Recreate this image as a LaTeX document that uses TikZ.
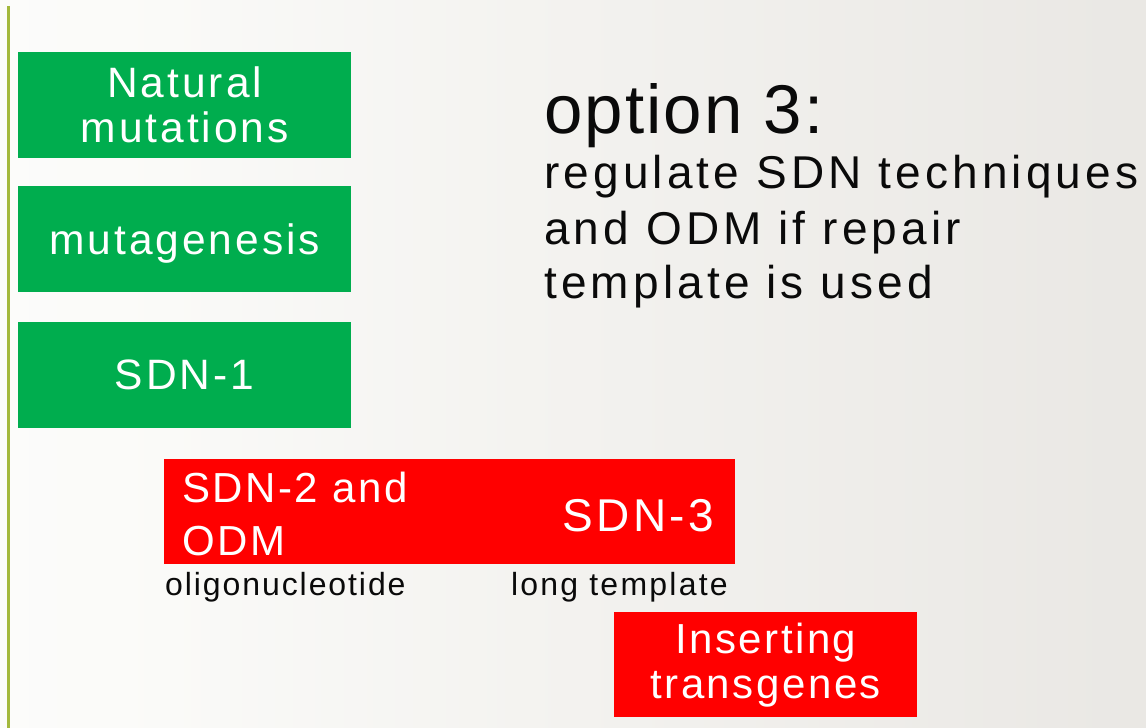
\documentclass[tikz,border=0pt]{standalone}
\usepackage{fontspec}
\setmainfont{Liberation Sans}
\newfontfamily\trackfont{Liberation Sans}[LetterSpace=6]
\newfontfamily\boxfont{Liberation Sans}[LetterSpace=7]
\newfontfamily\bodyfont{Liberation Sans}[LetterSpace=9]
\newfontfamily\titlefont{Liberation Sans}[LetterSpace=3]
\newfontfamily\notefont{Liberation Sans}[LetterSpace=7]
\definecolor{boxgreen}{RGB}{0,173,78}
\definecolor{boxred}{RGB}{255,0,0}
\definecolor{olivebar}{RGB}{163,184,60}
\definecolor{bgA}{RGB}{251,251,249}
\definecolor{bgB}{RGB}{243,242,239}
\definecolor{bgC}{RGB}{224,221,217}
\definecolor{ink}{RGB}{10,10,10}
\pgfdeclarehorizontalshading{bgshade}{100bp}{color(0bp)=(white); color(30bp)=(bgA); color(50bp)=(bgB); color(100bp)=(bgC)}
\begin{document}
\begin{tikzpicture}[x=1pt,y=-1pt,
  boxbase/.style={rectangle, inner sep=0pt, anchor=north west, text=white, align=center},
  greenbox/.style={boxbase, fill=boxgreen, minimum width=333, minimum height=106,
    font=\boxfont\fontsize{42.5}{45}\selectfont},
  redbox/.style={boxbase, fill=boxred, minimum height=105,
    font=\trackfont\fontsize{42}{45}\selectfont},
  whitetext/.style={inner sep=0pt, text=white, font=\trackfont\fontsize{42}{42}\selectfont},
  smalltext/.style={inner sep=0pt, text=ink, font=\trackfont\fontsize{32}{32}\selectfont},
  bodytext/.style={inner sep=0pt, anchor=base west, text=ink, font=\bodyfont\fontsize{46}{46}\selectfont},
  titletext/.style={inner sep=0pt, anchor=base west, text=ink, font=\titlefont\fontsize{69}{69}\selectfont},
  barline/.style={draw=olivebar, line width=3pt}
]
\useasboundingbox (0,0) rectangle (1146,728);
\shade[shading=bgshade] (0,0) rectangle (1146,728);
\coordinate (bartop) at (8,6);
\coordinate (barbot) at (8,728);
\draw[barline] (bartop) -- (barbot);

\node[greenbox] (natural) at (18,52) {Natural\\mutations};
\node[greenbox, text depth=0pt] (mutagen) at (18,186) {mutagenesis};
\node[greenbox] (sdnone) at (18,322) {SDN-1};

\node[redbox, minimum width=571] (redwide) at (164,459) {};
\node[whitetext, anchor=base west] (sdntwoa) at (182,502) {SDN-2 and};
\node[whitetext, anchor=base west] (sdntwob) at (182,555) {ODM};
\node[whitetext, anchor=base east, font=\notefont\fontsize{46}{46}\selectfont] (sdnthree) at (714,531) {SDN-3};
\node[smalltext, anchor=base west] (oligo) at (165,595) {oligonucleotide};
\node[smalltext, anchor=base east, font=\notefont\fontsize{32}{32}\selectfont] (longtpl) at (728,595) {long template};

\node[redbox, minimum width=303] (insert) at (614,612) {Inserting\\transgenes};

\node[titletext] (option) at (544,133) {option 3:};
\node[bodytext] (lineone) at (544,188) {regulate SDN techniques};
\node[bodytext] (linetwo) at (544,244) {and ODM if repair};
\node[bodytext] (linethree) at (544,298) {template is used};
\end{tikzpicture}
\end{document}
